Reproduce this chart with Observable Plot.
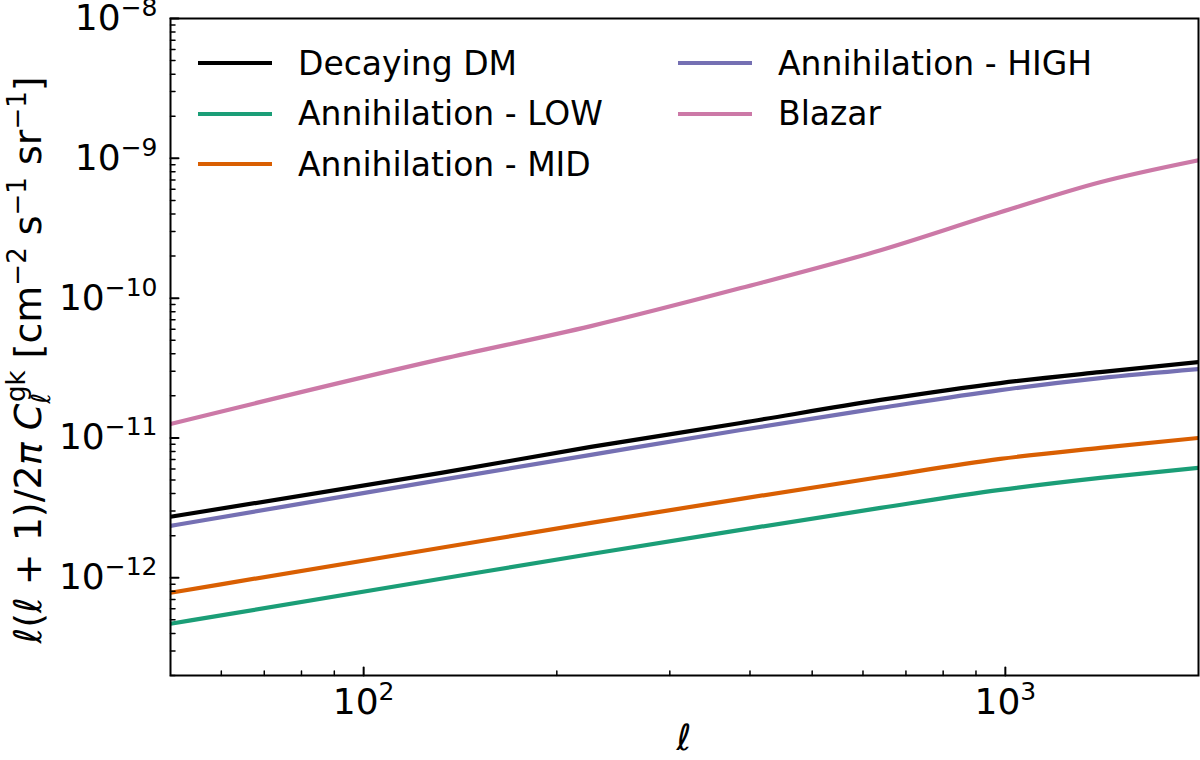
<!DOCTYPE html>
<html><head><meta charset="utf-8">
<script src="https://cdn.jsdelivr.net/npm/d3@7"></script>
<script src="https://cdn.jsdelivr.net/npm/@observablehq/plot@0.6"></script>
<style>
html,body{margin:0;padding:0;background:#fff;}
#wrap{position:relative;width:1200px;height:760px;font-family:"DejaVu Sans",sans-serif;}
#legend{position:absolute;left:198px;top:38px;display:grid;grid-template-columns:480px auto;grid-auto-flow:column;grid-template-rows:repeat(3,50.5px);font-size:33px;color:#000;line-height:1;}
.item{display:flex;align-items:center;white-space:nowrap;}
.swatch{display:inline-block;width:74px;height:4px;margin-right:26px;}
svg{overflow:visible;}
</style></head><body><div id="wrap"></div>
<script>
// ---- data ----
const ell = [50, 132, 226, 387, 639, 982, 1405, 2000];
const series = ["Decaying DM", "Annihilation - LOW", "Annihilation - MID", "Annihilation - HIGH", "Blazar"];
const colors = ["#000000", "#1b9e77", "#d95f02", "#7570b3", "#cc79a7"];
const decaying = [2.73e-12, 5.62e-12, 8.63e-12, 1.28e-11, 1.87e-11, 2.47e-11, 2.96e-11, 3.49e-11];
const annLow   = [4.69e-13, 9.84e-13, 1.48e-12, 2.20e-12, 3.16e-12, 4.25e-12, 5.18e-12, 6.11e-12];
const annMid   = [7.82e-13, 1.64e-12, 2.47e-12, 3.67e-12, 5.26e-12, 7.08e-12, 8.49e-12, 1.00e-11];
const annHigh  = [2.35e-12, 5.01e-12, 7.57e-12, 1.14e-11, 1.64e-11, 2.20e-11, 2.68e-11, 3.11e-11];
const blazar   = [1.26e-11, 3.66e-11, 6.31e-11, 1.18e-10, 2.20e-10, 4.11e-10, 6.74e-10, 9.68e-10];
const seriesValues = [decaying, annLow, annMid, annHigh, blazar];

const xMajorTicks = [100, 1000];
const xMajorLabels = ["10^2", "10^3"];
const xMinorTicks = [60, 70, 80, 90, 200, 300, 400, 500, 600, 700, 800, 900];
const yMajorTicks = [1e-12, 1e-11, 1e-10, 1e-9, 1e-8];
const yMajorLabels = ["10^−12", "10^−11", "10^−10", "10^−9", "10^−8"];
const minorMantissas = [2, 3, 4, 5, 6, 7, 8, 9];
const yMinorDecades = [1e-13, 1e-12, 1e-11, 1e-10, 1e-9];
const yMinorTicks = yMinorDecades.flatMap(d => minorMantissas.map(m => m * d));

// ---- table ----
const rows = [];
series.forEach((s, i) => ell.forEach((l, j) => rows.push({series: s, l, v: seriesValues[i][j]})));

const tickShape = {draw(ctx, l) { ctx.moveTo(0, 0); ctx.lineTo(0, -l); }};
const fmtX = new Map(xMajorTicks.map((t, i) => [t, xMajorLabels[i]]));
const fmtY = new Map(yMajorTicks.map((t, i) => [t, yMajorLabels[i]]));

const svg = Plot.plot({
  width: 1200, height: 760,
  marginLeft: 170, marginRight: 2, marginTop: 18, marginBottom: 85,
  style: {fontFamily: "DejaVu Sans", fontSize: "36px", color: "#000", background: "#fff", overflow: "visible"},
  x: {type: "log", domain: [50, 2000]},
  y: {type: "log", domain: [2e-13, 1e-8]},
  color: {domain: series, range: colors},
  marks: [
    Plot.line(rows, {x: "l", y: "v", z: "series", stroke: "series", strokeWidth: 4.2, curve: "monotone-x", clip: true}),
    Plot.vector(xMinorTicks, {x: d => d, frameAnchor: "bottom", rotate: 0, length: 4.5, anchor: "start", shape: tickShape, strokeWidth: 1.5, stroke: "#000"}),
    Plot.vector(xMajorTicks, {x: d => d, frameAnchor: "bottom", rotate: 0, length: 8, anchor: "start", shape: tickShape, strokeWidth: 2, stroke: "#000"}),
    Plot.vector(yMinorTicks, {y: d => d, frameAnchor: "left", rotate: 90, length: 4.5, anchor: "start", shape: tickShape, strokeWidth: 1.5, stroke: "#000"}),
    Plot.vector(yMajorTicks, {y: d => d, frameAnchor: "left", rotate: 90, length: 8, anchor: "start", shape: tickShape, strokeWidth: 2, stroke: "#000"}),
    Plot.axisX({ticks: xMajorTicks, tickSize: 0, tickPadding: 13, tickFormat: d => fmtX.get(d), label: null}),
    Plot.axisY({ticks: yMajorTicks, tickSize: 0, tickPadding: 13, tickFormat: d => fmtY.get(d), label: null}),
    Plot.frame({stroke: "#000", strokeWidth: 2})
  ]
});

// superscript exponents in tick labels
svg.querySelectorAll('[aria-label="x-axis tick label"] text, [aria-label="y-axis tick label"] text').forEach(node => {
  const t = node.textContent;
  if (!t.includes("^")) return;
  const [base, exp] = t.split("^");
  node.textContent = "";
  const ns = "http://www.w3.org/2000/svg";
  const a = document.createElementNS(ns, "tspan"); a.textContent = base; node.appendChild(a);
  const b = document.createElementNS(ns, "tspan"); b.textContent = exp;
  b.setAttribute("font-size", "25px"); b.setAttribute("dy", "-14"); node.appendChild(b);
});

const s = d3.select(svg);
// x label
s.append("text").attr("x", 684).attr("y", 750).attr("text-anchor", "middle")
  .attr("font-family", "DejaVu Sans").attr("font-size", 36).attr("font-style", "italic").attr("fill", "#000").text("ℓ");

// y label
const yl = s.append("text").attr("transform", "translate(41,360) rotate(-90)").attr("text-anchor", "middle")
  .attr("font-family", "DejaVu Sans").attr("font-size", 38).attr("fill", "#000");
const parts = [
  ["ℓ", {it: 1}], ["(", {}], ["ℓ", {it: 1}], [" + 1)/2", {}], ["π", {it: 1}], [" ", {}], ["C", {it: 1}],
  ["ℓ", {it: 1, fs: 26, dy: 9}], ["gk", {fs: 26, dx: -9, dy: -25}],
  [" [cm", {dy: 16}], ["−2", {fs: 26, dy: -15}], [" s", {dy: 15}], ["−1", {fs: 26, dy: -15}],
  [" sr", {dy: 15}], ["−1", {fs: 26, dy: -15}], ["]", {dy: 15}]
];
parts.forEach(([txt, o]) => {
  const ts = yl.append("tspan").text(txt);
  if (o.it) ts.attr("font-style", "italic");
  if (o.fs) ts.attr("font-size", o.fs);
  if (o.dy) ts.attr("dy", o.dy);
  if (o.dx) ts.attr("dx", o.dx);
});

const wrap = document.getElementById("wrap");
wrap.appendChild(svg);

// legend inside plot
const legend = document.createElement("div");
legend.id = "legend";
series.forEach((name, i) => {
  const item = document.createElement("div"); item.className = "item";
  const sw = document.createElement("span"); sw.className = "swatch"; sw.style.background = colors[i];
  const lab = document.createElement("span"); lab.textContent = name;
  item.appendChild(sw); item.appendChild(lab); legend.appendChild(item);
});
wrap.appendChild(legend);
</script></body></html>
